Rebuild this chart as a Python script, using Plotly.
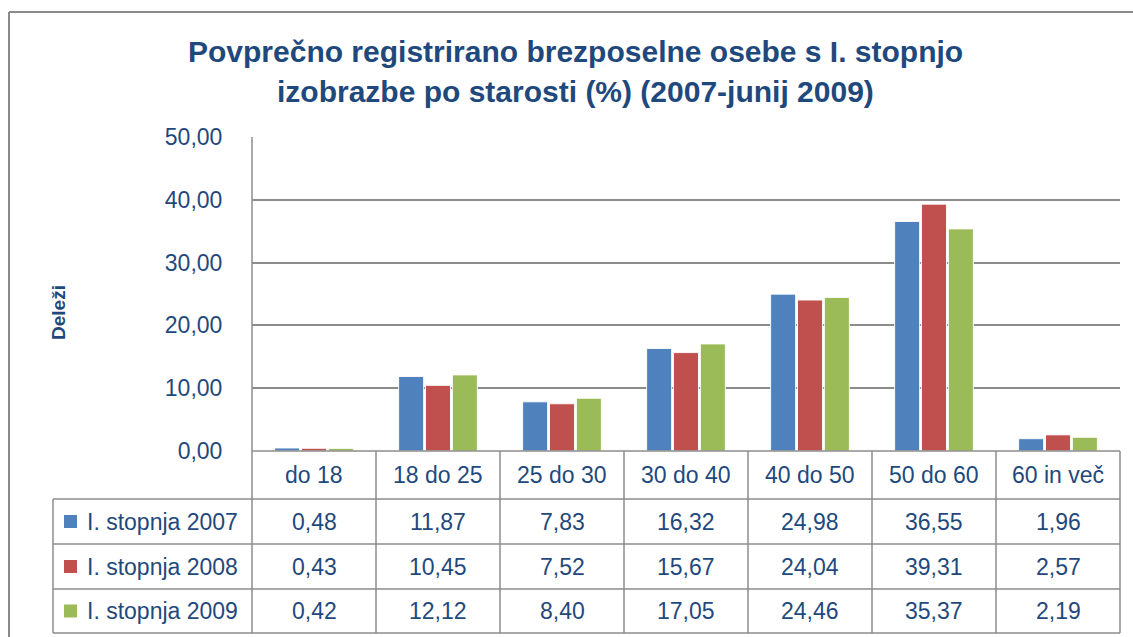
import plotly.graph_objects as go

categories = ["do 18", "18 do 25", "25 do 30", "30 do 40", "40 do 50", "50 do 60", "60 in več"]
series_names = ["I. stopnja 2007", "I. stopnja 2008", "I. stopnja 2009"]
v2007 = [0.48, 11.87, 7.83, 16.32, 24.98, 36.55, 1.96]
v2008 = [0.43, 10.45, 7.52, 15.67, 24.04, 39.31, 2.57]
v2009 = [0.42, 12.12, 8.40, 17.05, 24.46, 35.37, 2.19]
series_values = [v2007, v2008, v2009]
colors = ["#4F81BD", "#C0504D", "#9BBB59"]
title_lines = ["Povprečno registrirano brezposelne osebe s I. stopnjo",
               "izobrazbe po starosti (%) (2007-junij 2009)"]
y_title = "Deleži"

W, H = 1133, 637
L, R, T, B = 252, 1120, 137, 451   # plot area in screen pixels
TXT = "#1F497D"
GRID = "#8C8C8C"
FONT = "Liberation Sans"
FS = 23

def px(x):
    return (x - L) / (R - L)

def py(y):
    return (B - y) / (B - T)

fig = go.Figure()
for name, vals, col in zip(series_names, series_values, colors):
    fig.add_trace(go.Bar(
        x=categories, y=vals, name=name,
        marker=dict(color=col, line=dict(color="rgba(255,255,255,0.9)", width=1)),
        hoverinfo="x+y+name",
    ))

shapes = []
# outer chart border (top and left visible)
shapes.append(dict(type="line", xref="paper", yref="paper", x0=px(9), x1=px(1140), y0=py(12), y1=py(12),
                   line=dict(color="#8A8A8A", width=2)))
shapes.append(dict(type="line", xref="paper", yref="paper", x0=px(9), x1=px(9), y0=py(12), y1=py(645),
                   line=dict(color="#8A8A8A", width=2)))

tl = dict(color="#8C8C8C", width=1.5)
row_lines = [499, 544, 589, 633]
shapes.append(dict(type="line", xref="paper", yref="paper", x0=px(L), x1=px(R), y0=py(B), y1=py(B), line=tl))
for yy in row_lines:
    shapes.append(dict(type="line", xref="paper", yref="paper", x0=px(53), x1=px(R), y0=py(yy), y1=py(yy), line=tl))
ncat = len(categories)
colw = (R - L) / ncat
for i in range(ncat + 1):
    xx = L + i * colw
    y_top = T if i == 0 else B
    shapes.append(dict(type="line", xref="paper", yref="paper", x0=px(xx), x1=px(xx), y0=py(y_top), y1=py(633), line=tl))
shapes.append(dict(type="line", xref="paper", yref="paper", x0=px(53), x1=px(53), y0=py(499), y1=py(633), line=tl))

annotations = []
for i, line in enumerate(title_lines):
    annotations.append(dict(text="<b>" + line + "</b>", xref="paper", yref="paper",
                            x=px(575), y=py(52 + i * 39), showarrow=False,
                            font=dict(family=FONT, size=30, color=TXT), xanchor="center", yanchor="middle"))
annotations.append(dict(text="<b>" + y_title + "</b>", xref="paper", yref="paper", x=px(58), y=py(313),
                        textangle=-90, showarrow=False, xanchor="center", yanchor="middle",
                        font=dict(family=FONT, size=19, color=TXT)))
for c in categories:
    annotations.append(dict(text=c, xref="x", yref="paper", x=c, y=py(475), showarrow=False,
                            xanchor="center", yanchor="middle",
                            font=dict(family=FONT, size=FS, color=TXT)))
row_centers = [521.5, 566.5, 611]
for name, vals, col, yc in zip(series_names, series_values, colors, row_centers):
    shapes.append(dict(type="rect", xref="paper", yref="paper", x0=px(64), x1=px(77),
                       y0=py(yc - 6.5), y1=py(yc + 6.5), fillcolor=col, line=dict(width=0)))
    annotations.append(dict(text=name, xref="paper", yref="paper", x=px(85), y=py(yc), xanchor="left",
                            yanchor="middle", showarrow=False, font=dict(family=FONT, size=FS, color=TXT)))
    for c, v in zip(categories, vals):
        annotations.append(dict(text=f"{v:.2f}".replace(".", ","), xref="x", yref="paper", x=c, y=py(yc),
                                xanchor="center", yanchor="middle",
                                showarrow=False, font=dict(family=FONT, size=FS, color=TXT)))

fig.update_layout(
    width=W, height=H,
    margin=dict(l=L, r=W - R, t=T, b=H - B),
    paper_bgcolor="white", plot_bgcolor="white",
    barmode="group", bargap=0.35, bargroupgap=0.07,
    showlegend=False,
    separators=",.",
    font=dict(family=FONT, color=TXT),
    xaxis=dict(showticklabels=False, showgrid=False, zeroline=False, showline=False, ticks="",
               range=[-0.5, ncat - 0.5]),
    yaxis=dict(range=[0, 50], dtick=10, tickformat=".2f", showgrid=True, gridcolor=GRID, gridwidth=1.5,
               zeroline=False, showline=False, ticks="outside", ticklen=24, tickcolor="rgba(0,0,0,0)",
               tickfont=dict(family=FONT, size=FS, color=TXT)),
    shapes=shapes, annotations=annotations,
)

fig.write_html("out.html", config={"displayModeBar": False},
               post_script="document.body.style.margin='0';document.body.style.overflow='hidden';")
